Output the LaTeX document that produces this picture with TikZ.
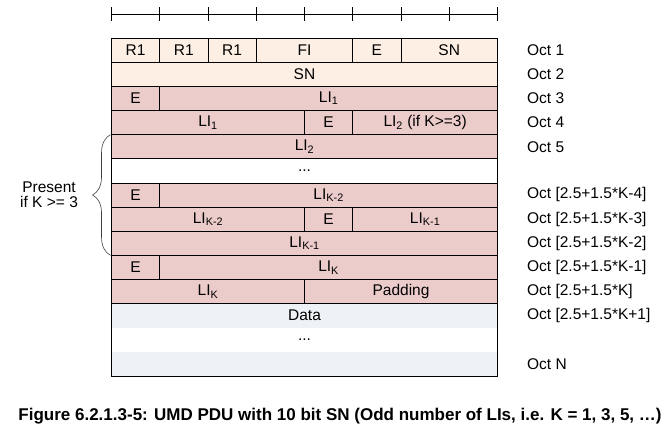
\documentclass[tikz,border=0pt]{standalone}
\usepackage{fontspec}
\setmainfont{Liberation Sans}
\usetikzlibrary{decorations.pathreplacing}

\definecolor{octpeach}{RGB}{253,239,228}
\definecolor{octpink}{RGB}{235,204,203}
\definecolor{octdata}{RGB}{238,241,246}

\tikzset{
  field/.style={draw=black, line width=0.8pt},
  fieldtext/.style={font=\fontsize{15.5}{17}\selectfont, text=black, inner sep=0pt},
  octlabel/.style={font=\fontsize{15.5}{17}\selectfont, anchor=west, inner sep=0pt},
}

\begin{document}
\begin{tikzpicture}[x=48.25pt, y=-24.15pt]
        \useasboundingbox (-111.5pt,38pt) rectangle (556.5pt,-396pt);
        % bit ruler
        \draw[black, line width=0.8pt] (0,-0.99) -- (8,-0.99) ;
        \foreach \i in {0,...,8}
            \draw[black, line width=0.8pt] (\i,-1.27) -- (\i,-0.72) ;
        % octet 1 and 2
        \draw[field, fill=octpeach] (0,0) rectangle node[fieldtext] (rone) {R1} (1,1) ;
        \draw[field, fill=octpeach] (1,0) rectangle node[fieldtext] (rtwo) {R1} (2,1) ;
        \draw[field, fill=octpeach] (2,0) rectangle node[fieldtext] (rthree) {R1} (3,1) ;
        \draw[field, fill=octpeach] (3,0) rectangle node[fieldtext] (fi) {FI} (5,1) ;
        \draw[field, fill=octpeach] (5,0) rectangle node[fieldtext] (eone) {E} (6,1) ;
        \draw[field, fill=octpeach] (6,0) rectangle node[fieldtext] (snhigh) {SN} (8,1) ;
        \draw[field, fill=octpeach] (0,1) rectangle node[fieldtext] (snlow) {SN} (8,2) ;
        % length indicators
        \draw[field, fill=octpink] (0,2) rectangle node[fieldtext] (etwo) {E} (1,3) ;
        \draw[field, fill=octpink] (1,2) rectangle node[fieldtext] (lione) {LI\textsubscript{1}} (8,3) ;
        \draw[field, fill=octpink] (0,3) rectangle node[fieldtext] (lionelow) {LI\textsubscript{1}} (4,4) ;
        \draw[field, fill=octpink] (4,3) rectangle node[fieldtext] (ethree) {E} (5,4) ;
        \draw[field, fill=octpink] (5,3) rectangle node[fieldtext] (litwo) {LI\textsubscript{2} (if K>=3)} (8,4) ;
        \draw[field, fill=octpink] (0,4) rectangle node[fieldtext] (litwolow) {LI\textsubscript{2}} (8,5) ;
        \draw[field, fill=white] (0,5) rectangle node[fieldtext] (dotsli) {...} (8,6) ;
        \draw[field, fill=octpink] (0,6) rectangle node[fieldtext] (efour) {E} (1,7) ;
        \draw[field, fill=octpink] (1,6) rectangle node[fieldtext] (likminustwo) {LI\textsubscript{K-2}} (8,7) ;
        \draw[field, fill=octpink] (0,7) rectangle node[fieldtext] (likminustwolow) {LI\textsubscript{K-2}} (4,8) ;
        \draw[field, fill=octpink] (4,7) rectangle node[fieldtext] (efive) {E} (5,8) ;
        \draw[field, fill=octpink] (5,7) rectangle node[fieldtext] (likminusone) {LI\textsubscript{K-1}} (8,8) ;
        \draw[field, fill=octpink] (0,8) rectangle node[fieldtext] (likminusonelow) {LI\textsubscript{K-1}} (8,9) ;
        \draw[field, fill=octpink] (0,9) rectangle node[fieldtext] (esix) {E} (1,10) ;
        \draw[field, fill=octpink] (1,9) rectangle node[fieldtext] (lik) {LI\textsubscript{K}} (8,10) ;
        \draw[field, fill=octpink] (0,10) rectangle node[fieldtext] (liklow) {LI\textsubscript{K}} (4,11) ;
        \draw[field, fill=octpink] (4,10) rectangle node[fieldtext] (padding) {Padding} (8,11) ;
        % data
        \path[fill=octdata] (0,11) rectangle node[fieldtext] (data) {Data} (8,12) ;
        \path[fill=white] (0,12) rectangle node[fieldtext] (dotsdata) {...} (8,13) ;
        \path[fill=octdata] (0,13) rectangle (8,14) ;
        \draw[field] (0,11) -- (0,14) -- (8,14) -- (8,11) ;
        % octet numbers
        \node[octlabel] (octone) at (8.61,0.5) {Oct 1} ;
        \node[octlabel] (octtwo) at (8.61,1.5) {Oct 2} ;
        \node[octlabel] (octthree) at (8.61,2.5) {Oct 3} ;
        \node[octlabel] (octfour) at (8.61,3.5) {Oct 4} ;
        \node[octlabel] (octfive) at (8.61,4.5) {Oct 5} ;
        \node[octlabel] (octkfour) at (8.61,6.5) {Oct [2.5+1.5*K-4]} ;
        \node[octlabel] (octkthree) at (8.61,7.5) {Oct [2.5+1.5*K-3]} ;
        \node[octlabel] (octktwo) at (8.61,8.5) {Oct [2.5+1.5*K-2]} ;
        \node[octlabel] (octkone) at (8.61,9.5) {Oct [2.5+1.5*K-1]} ;
        \node[octlabel] (octk) at (8.61,10.5) {Oct [2.5+1.5*K]} ;
        \node[octlabel] (octkplus) at (8.61,11.5) {Oct [2.5+1.5*K+1]} ;
        \node[octlabel] (octn) at (8.61,13.5) {Oct N} ;
        % optional part
        \draw[decorate, decoration={brace, amplitude=18pt}, black!75, line width=0.6pt] (-0.02,9) -- (-0.02,4) ;
        \node[align=center, font=\fontsize{15.5}{15}\selectfont] (present) at (-1.295,6.5) {Present\\if K >= 3} ;
        \node[font=\fontsize{17}{19}\selectfont\bfseries] (caption) at (4.736,15.65) {Figure 6.2.1.3-5: UMD PDU with 10 bit SN (Odd number of LIs, i.e. K = 1, 3, 5, …)} ;
    \end{tikzpicture}
\end{document}
